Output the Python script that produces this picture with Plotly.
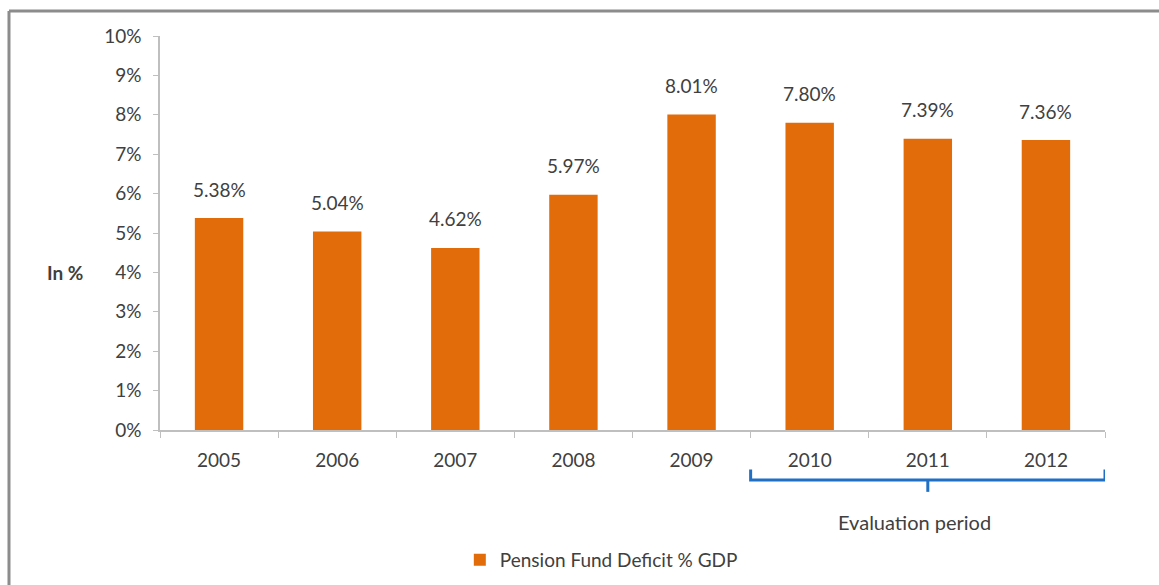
import plotly.graph_objects as go

years = ["2005", "2006", "2007", "2008", "2009", "2010", "2011", "2012"]
deficit_pct = [5.38, 5.04, 4.62, 5.97, 8.01, 7.80, 7.39, 7.36]
y_ticks = [0, 1, 2, 3, 4, 5, 6, 7, 8, 9, 10]
y_tick_labels = [f"{v}%" for v in y_ticks]
series_name = "Pension Fund Deficit % GDP"
bracket_note = "Evaluation period"

ORANGE = "#E36C0A"
TEXT = "#404040"
AXIS = "#BFBFBF"
FONT = "Lato, Calibri, sans-serif"
FS = 19

fig = go.Figure()
fig.add_trace(go.Bar(
    x=years, y=deficit_pct, name=series_name,
    marker=dict(color=ORANGE, line=dict(width=0)),
    width=0.41, showlegend=True,
))

# value labels above each bar (placed by category index)
for i, v in enumerate(deficit_pct):
    fig.add_annotation(x=i, xref="x", y=v, yref="y", text=f"{v:.2f}%",
                       showarrow=False, xanchor="center", yanchor="middle",
                       yshift=29,
                       font=dict(size=FS, color=TEXT, family=FONT))

# bracket under the evaluation years
start_idx = years.index("2010") - 0.5
end_idx = years.index("2012") + 0.5
mid_idx = (start_idx + end_idx) / 2
BLUE = "#1F6FC5"
br = dict(color=BLUE, width=3)
y_top, y_bar, y_tip = -0.100, -0.127, -0.157
fig.add_shape(type="path", xref="x", yref="paper",
              path=(f"M {start_idx} {y_top} L {start_idx} {y_bar} "
                    f"L {end_idx} {y_bar} L {end_idx} {y_top}"),
              line=br)
fig.add_shape(type="line", xref="x", yref="paper",
              x0=mid_idx, x1=mid_idx, y0=y_bar, y1=y_tip, line=br)
fig.add_annotation(x=mid_idx - 0.11, xref="x", y=-0.234, yref="paper",
                   text=bracket_note, showarrow=False,
                   xanchor="center", yanchor="middle",
                   font=dict(size=20, color=TEXT, family=FONT))

# y-axis caption
fig.add_annotation(x=-0.1005, xref="paper", y=0.401, yref="paper",
                   text="<b>In %</b>", showarrow=False,
                   xanchor="center", yanchor="middle",
                   font=dict(size=FS, color=TEXT, family=FONT))

# outer frame (top and left edges)
frame = dict(color="#8C8C8C", width=3)
fig.add_shape(type="line", xref="paper", yref="paper",
              x0=-0.1598, x1=1.2, y0=1.0635, y1=1.0635, line=frame)
fig.add_shape(type="line", xref="paper", yref="paper",
              x0=-0.1598, x1=-0.1598, y0=1.0635, y1=-0.5, line=frame)

fig.update_layout(
    width=1159, height=585,
    margin=dict(l=160, r=54, t=36, b=155, autoexpand=False),
    paper_bgcolor="white", plot_bgcolor="white",
    font=dict(family=FONT, size=FS, color=TEXT),
    legend=dict(orientation="h", x=0.467, xanchor="center",
                y=-0.33, yanchor="middle",
                font=dict(size=FS, color=TEXT, family=FONT),
                itemsizing="constant", itemwidth=30),
    xaxis=dict(type="category", range=[-0.5, len(years) - 0.5],
               showgrid=False, showline=True,
               linecolor=AXIS, linewidth=1.5, ticks="outside",
               tickson="boundaries", ticklen=6, tickcolor=AXIS,
               tickangle=0, ticklabelstandoff=12, automargin=False,
               tickfont=dict(size=FS, color=TEXT)),
    yaxis=dict(range=[0, 10], tickvals=y_ticks, ticktext=y_tick_labels,
               showgrid=False, showline=True, linecolor=AXIS, linewidth=1.5,
               ticks="outside", ticklen=5, tickcolor=AXIS,
               ticklabelstandoff=8, automargin=False,
               tickfont=dict(size=FS, color=TEXT), zeroline=False),
)

fig.write_html("out.html")
